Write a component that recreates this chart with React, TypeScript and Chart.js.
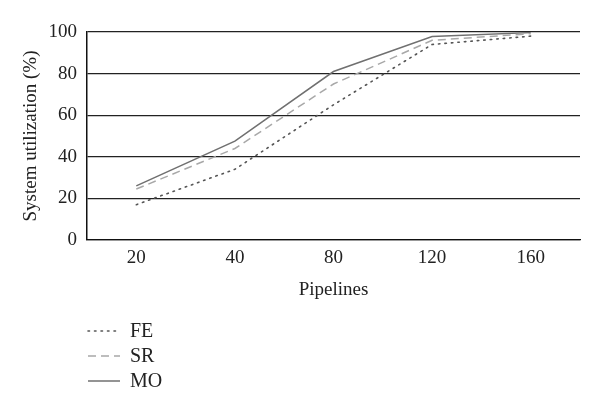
import React, { useEffect, useRef } from "react";
import { Chart, registerables } from "chart.js";

Chart.register(...registerables);

const categories = ["20", "40", "80", "120", "160"];
const feValues = [17, 34, 65, 94, 98];
const srValues = [24.5, 44, 75, 96, 99.2];
const moValues = [26, 47.5, 81, 97.8, 99.7];
const yTicks = [0, 20, 40, 60, 80, 100];

const FONT = "'Liberation Serif', 'DejaVu Serif', serif";

const legendPlugin = {
  id: "stackedLegend",
  afterDraw(chart: any) {
    const ctx = chart.ctx;
    const sets = chart.data.datasets;
    ctx.save();
    sets.forEach((ds: any, i: number) => {
      const y = 331 + i * 25;
      ctx.beginPath();
      ctx.strokeStyle = ds.borderColor;
      ctx.lineWidth = ds.borderWidth;
      ctx.setLineDash(ds.borderDash || []);
      ctx.lineCap = ds.borderCapStyle || "butt";
      ctx.moveTo(88, y);
      ctx.lineTo(120, y);
      ctx.stroke();
      ctx.setLineDash([]);
      ctx.fillStyle = "#222";
      ctx.font = `20px ${FONT}`;
      ctx.textBaseline = "middle";
      ctx.textAlign = "left";
      ctx.fillText(ds.label, 130, y + 1);
    });
    ctx.restore();
  },
};

export default function App() {
  const ref = useRef<HTMLCanvasElement>(null);
  useEffect(() => {
    document.body.style.margin = "0";
    const chart = new Chart(ref.current!, {
      type: "line",
      data: {
        labels: categories,
        datasets: [
          {
            label: "FE",
            data: feValues,
            borderColor: "#555555",
            borderWidth: 1.6,
            borderDash: [1.5, 5],
            borderCapStyle: "round",
            pointRadius: 0,
            tension: 0,
          },
          {
            label: "SR",
            data: srValues,
            borderColor: "#a8a8a8",
            borderWidth: 1.5,
            borderDash: [8, 5],
            pointRadius: 0,
            tension: 0,
          },
          {
            label: "MO",
            data: moValues,
            borderColor: "#707070",
            borderWidth: 1.5,
            pointRadius: 0,
            tension: 0,
          },
        ],
      },
      options: {
        animation: false,
        responsive: false,
        layout: { padding: { top: 32, right: 20, bottom: 110, left: 0 } },
        plugins: { legend: { display: false }, tooltip: { enabled: false } },
        scales: {
          x: {
            offset: true,
            grid: { display: false, drawTicks: false },
            border: { display: true, color: "#111", width: 1.2 },
            ticks: { color: "#222", font: { family: FONT, size: 19 }, padding: 7 },
            title: {
              display: true,
              text: "Pipelines",
              color: "#222",
              font: { family: FONT, size: 19 },
              padding: { top: 0, bottom: 3 },
            },
            afterFit: (s: any) => {
              s.height = 64;
            },
          },
          y: {
            min: 0,
            max: 100,
            afterBuildTicks: (s: any) => {
              s.ticks = yTicks.map((v) => ({ value: v }));
            },
            grid: { color: "#222", lineWidth: 1.2, drawTicks: false },
            border: { display: true, color: "#111", width: 1.5 },
            ticks: { color: "#222", font: { family: FONT, size: 19 }, padding: 10 },
            title: {
              display: true,
              text: "System utilization (%)",
              color: "#222",
              font: { family: FONT, size: 19 },
              padding: { top: 20, bottom: 0 },
            },
            afterFit: (s: any) => {
              s.width = 87;
            },
          },
        },
      },
      plugins: [legendPlugin],
    } as any);
    return () => chart.destroy();
  }, []);
  return (
    <div style={{ width: 600, height: 414, background: "#fff" }}>
      <canvas ref={ref} width={600} height={414} />
    </div>
  );
}
